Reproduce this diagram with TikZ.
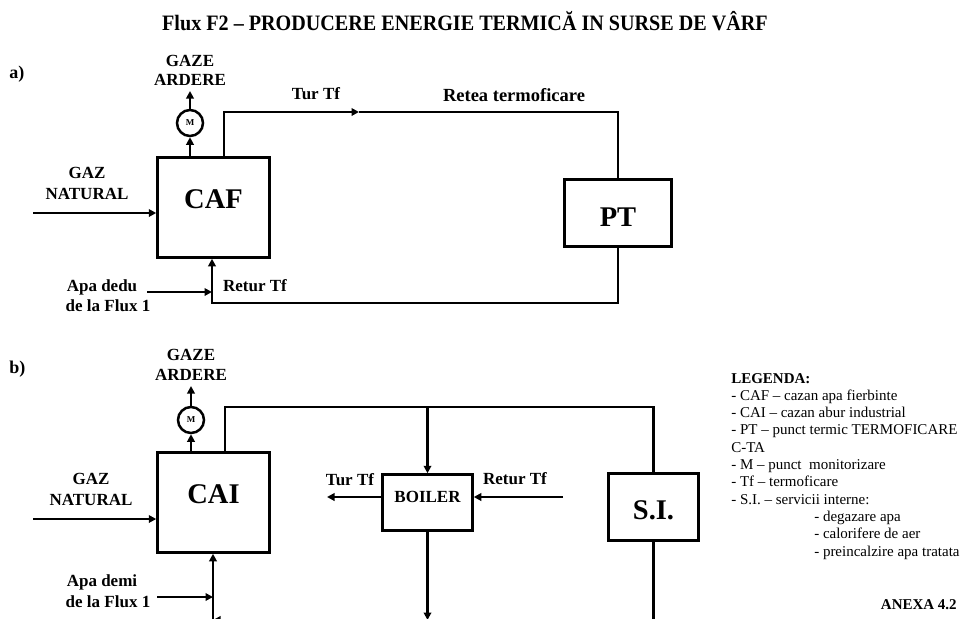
\documentclass[tikz,border=0pt]{standalone}
\usepackage{fontspec}
\usepackage{graphicx}
\setmainfont{Liberation Serif}
\usetikzlibrary{arrows.meta}
\begin{document}
\begin{tikzpicture}[x=1pt,y=-1pt,
  line width=2.5pt,
  arr/.style={-{Triangle[length=7.5pt,width=7.5pt]}},
  box/.style={draw, inner sep=0pt, font=\fontsize{28.5}{30}\selectfont\bfseries, text depth=20pt},
  lbl/.style={font=\fontsize{17}{19}\selectfont\bfseries, inner sep=0pt, anchor=base},
  mcirc/.style={draw, circle, minimum size=26pt, inner sep=0pt, font=\fontsize{9}{9}\selectfont\bfseries},
  leg/.style={font=\fontsize{15}{17}\selectfont, inner sep=0pt, anchor=base west}
]
\useasboundingbox (0,0) rectangle (962,619);

% title
\node[inner sep=0pt, font=\fontsize{22}{24}\selectfont\bfseries] (title) at (465,21)
  {\scalebox{0.915}[1]{Flux F2 – PRODUCERE ENERGIE TERMICĂ IN SURSE DE VÂRF}};

% ---------------- a) ----------------
\node[lbl, anchor=base west, font=\fontsize{18}{20}\selectfont\bfseries] (la) at (8,78) {a)};
\node[box, minimum width=112pt, minimum height=100pt, text height=21.5pt] (caf) at (213.5,207.5) {CAF};
\node[box, minimum width=107pt, minimum height=67pt, text height=46.5pt] (pt) at (618,213) {PT};
\node[mcirc] (ma) at (190,123) {M};

\node[lbl] (gazeA) at (190,66) {GAZE};
\node[lbl] (ardA) at (190,85) {ARDERE};
\node[lbl] (turAl) at (316,99) {Tur Tf};
\node[lbl, font=\fontsize{18.5}{20}\selectfont\bfseries] (retea) at (514,101) {Retea termoficare};
\node[lbl] (gazA1) at (87,178) {GAZ};
\node[lbl] (gazA2) at (87,199) {NATURAL};
\node[lbl] (apaA1) at (102,291) {Apa dedu};
\node[lbl] (apaA2) at (108,311) {de la Flux 1};
\node[lbl] (retAl) at (255,291) {Retur Tf};

\coordinate (gtopA) at (190,91);
\coordinate (turA) at (224,112);
\coordinate (midA) at (359,112);
\coordinate (retA) at (212,303);
\coordinate (gasinA) at (33,213);
\coordinate (apainA) at (147,292);

\draw[arr] (caf.north -| ma) -- (ma);
\draw[arr] (ma) -- (gtopA);
\draw[arr] (caf.north -| turA) -- (turA) -- (midA);
\draw (midA) -| (pt.north);
\draw[arr] (pt.south) |- (retA) -- (caf.south -| retA);
\draw[arr] (gasinA) -- (caf.west |- gasinA);
\draw[arr] (apainA) -- (apainA -| retA);

% ---------------- b) ----------------
\node[lbl, anchor=base west, font=\fontsize{18}{20}\selectfont\bfseries] (lb) at (8,373) {b)};
\node[box, minimum width=112pt, minimum height=100pt, text height=22.5pt] (cai) at (213.5,502.5) {CAI};
\node[box, minimum width=90pt, minimum height=56pt, text height=20.2pt, font=\fontsize{17}{19}\selectfont\bfseries] (boiler) at (427.5,502.5) {BOILER};
\node[box, minimum width=90pt, minimum height=67pt, text height=44.5pt] (si) at (653.5,507) {S.I.};
\node[mcirc] (mb) at (191,420) {M};

\node[lbl] (gazeB) at (191,360) {GAZE};
\node[lbl] (ardB) at (191,380) {ARDERE};
\node[lbl] (gazB1) at (91,484) {GAZ};
\node[lbl] (gazB2) at (91,505) {NATURAL};
\node[lbl] (apaB1) at (102,586) {Apa demi};
\node[lbl] (apaB2) at (108,607) {de la Flux 1};
\node[lbl] (turBl) at (350,485) {Tur Tf};
\node[lbl] (retBl) at (515,484) {Retur Tf};

\coordinate (gtopB) at (191,386);
\coordinate (topB) at (225,407);
\coordinate (turB) at (327,497);
\coordinate (retB) at (563,497);
\coordinate (gasinB) at (33,519);
\coordinate (botB) at (213,620);
\coordinate (apainB) at (157,597);

\draw[arr] (cai.north -| mb) -- (mb);
\draw[arr] (mb) -- (gtopB);
\draw (cai.north -| topB) -- (topB) -| (si.north);
\draw[arr] (topB -| boiler) -- (boiler.north);
\draw[arr] (turB -| boiler.west) -- (turB);
\draw[arr] (retB) -- (retB -| boiler.east);
\draw[arr] (gasinB) -- (cai.west |- gasinB);
\draw[arr] (si.south) |- (botB);
\draw[arr] (botB) -- (cai.south -| botB);
\draw[arr] (apainB) -- (apainB -| botB);
\draw[arr] (boiler.south) -- (boiler.south |- botB);

% ---------------- legend ----------------
\node[leg, font=\fontsize{15}{17}\selectfont\bfseries] (leg1) at (730,383) {LEGENDA:};
\node[leg] (leg2) at (730,400.3) {- CAF – cazan apa fierbinte};
\node[leg] (leg3) at (730,417.6) {- CAI – cazan abur industrial};
\node[leg] (leg4) at (730,434.9) {- PT – punct termic TERMOFICARE};
\node[leg] (leg5) at (730,452.2) {C-TA};
\node[leg] (leg6) at (730,469.5) {- M – punct\ \ monitorizare};
\node[leg] (leg7) at (730,486.8) {- Tf – termoficare};
\node[leg] (leg8) at (730,504.1) {- S.I. – servicii interne:};
\node[leg] (leg9) at (813,521.4) {- degazare apa};
\node[leg] (leg10) at (813,538.7) {- calorifere de aer};
\node[leg] (leg11) at (813,556) {- preincalzire apa tratata};
\node[leg, anchor=base east, font=\fontsize{15}{17}\selectfont\bfseries] (anexa) at (958,609) {ANEXA 4.2};
\end{tikzpicture}
\end{document}
